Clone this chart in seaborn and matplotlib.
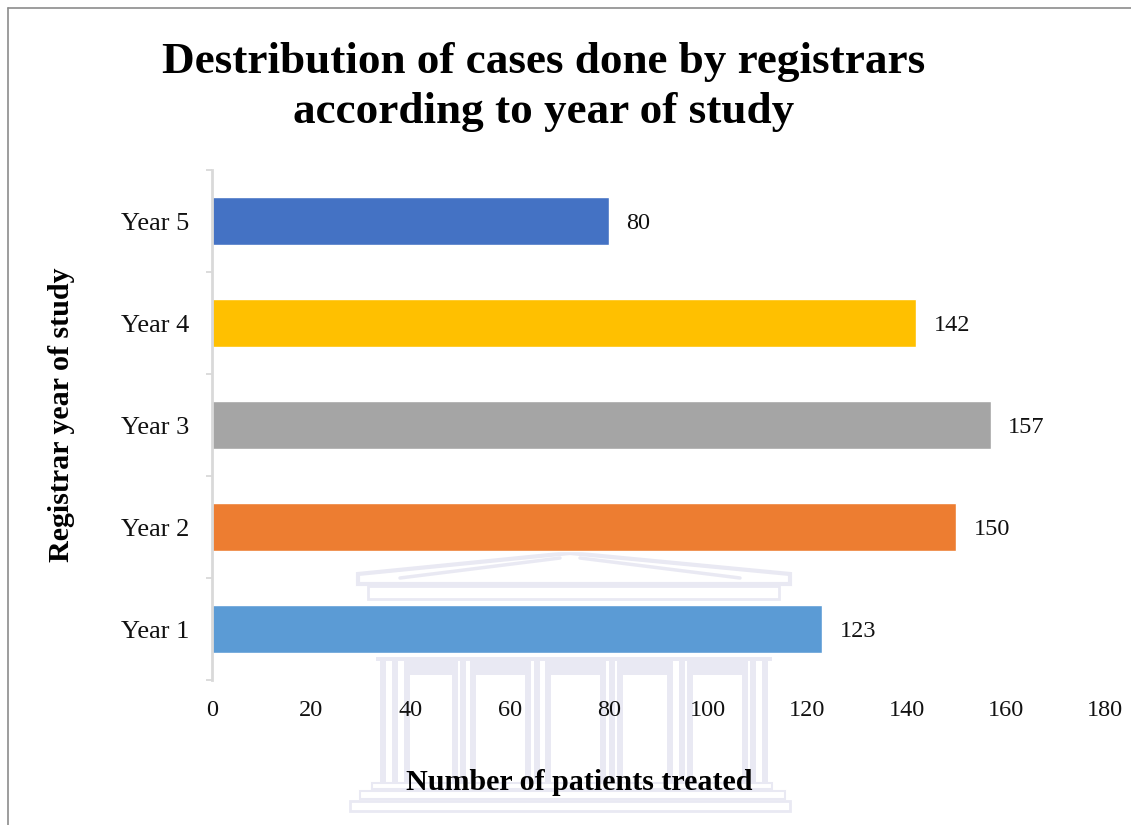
import matplotlib
matplotlib.use('Agg')
import matplotlib.pyplot as plt
from matplotlib.lines import Line2D
from matplotlib.patches import Rectangle, Polygon
import seaborn as sns
import pandas as pd

years = ['Year 5', 'Year 4', 'Year 3', 'Year 2', 'Year 1']
patients = [80, 142, 157, 150, 123]
colors = ['#4472C4', '#FFC000', '#A5A5A5', '#ED7D31', '#5B9BD5']
xticks = [0, 20, 40, 60, 80, 100, 120, 140, 160, 180]

W, H = 1131, 825

sns.set_theme(style='white')
plt.rcParams['font.family'] = ['Liberation Serif', 'DejaVu Serif']

fig = plt.figure(figsize=(W / 100, H / 100), dpi=100, facecolor='white')

# faded building watermark behind the chart, in pixel coords
bg = fig.add_axes([0, 0, 1, 1], zorder=0)
bg.set_xlim(0, W)
bg.set_ylim(H, 0)
bg.axis('off')
wm = '#E9E9F3'
bg.add_patch(Polygon([[358, 574], [570, 553], [790, 574], [790, 584], [358, 584]], closed=True,
                     fill=False, ec=wm, lw=3))
bg.add_patch(Rectangle((368, 586), 411, 13, fill=False, ec=wm, lw=2))
bg.add_line(Line2D([400, 560], [578, 558], color=wm, lw=2.5))
bg.add_line(Line2D([580, 740], [558, 578], color=wm, lw=2.5))
for cx in [383, 395, 407, 455, 463, 473, 528, 537, 548, 603, 612, 620, 670, 682, 690, 745, 753, 765]:
    bg.add_patch(Rectangle((cx - 3, 660), 6, 124, color=wm, lw=0))
bg.add_patch(Rectangle((376, 657), 396, 4, color=wm, lw=0))
for x0, x1 in [(407, 455), (473, 528), (548, 603), (620, 670), (690, 745)]:
    bg.add_patch(Rectangle((x0, 660), x1 - x0, 15, color=wm, lw=0))
bg.add_patch(Rectangle((372, 783), 400, 6, fill=False, ec=wm, lw=1.5))
bg.add_patch(Rectangle((360, 791), 425, 8, fill=False, ec=wm, lw=1.5))
bg.add_patch(Rectangle((350, 801), 440, 10, fill=False, ec=wm, lw=2))

# thin frame, only top and left edges show
bg.add_line(Line2D([8, W], [8, 8], color='#8C8C8C', lw=1.2))
bg.add_line(Line2D([8, 8], [8, H], color='#8C8C8C', lw=1.2))

ax = fig.add_axes([212 / W, 1 - 680 / H, (1105 - 212) / W, (680 - 170) / H], zorder=1)
ax.patch.set_alpha(0)

df = pd.DataFrame({'year': years, 'patients': patients})
sns.barplot(data=df, x='patients', y='year', hue='year', palette=colors, order=years,
            hue_order=years, width=0.47, dodge=False, legend=False, saturation=1, ax=ax)

for c in ax.containers:
    for t in ax.bar_label(c, padding=12.4, fontsize=17.5, color='#111111'):
        t.set_verticalalignment('center_baseline')

ax.set_xlim(0, 180)
ax.set_ylim(4.5, -0.5)
ax.set_xticks(xticks)
ax.set_yticks(range(len(years)))
ax.set_yticklabels(years)
ax.set_yticks([i - 0.5 for i in range(len(years) + 1)], minor=True)
ax.tick_params(axis='x', length=0, labelsize=17.5, pad=14.5, colors='#111111')
ax.tick_params(axis='y', which='major', length=0, labelsize=19, pad=16.5, colors='#111111')
ax.tick_params(axis='y', which='minor', left=True, length=4.5, width=1.3, color='#D9D9D9')

sns.despine(ax=ax, top=True, right=True, bottom=True)
ax.spines['left'].set_color('#D9D9D9')
ax.spines['left'].set_linewidth(2)

ax.set_xlabel('')
ax.set_ylabel('')
fig.text(579 / W, 1 - 782 / H, 'Number of patients treated', ha='center', va='center',
         fontsize=21.6, fontweight='bold', color='black')
fig.text(62 / W, 1 - 415 / H, 'Registrar year of study', ha='center', va='center', rotation=90,
         fontsize=21.6, fontweight='bold', color='black')
fig.text(544 / W, 1 - 87 / H, 'Destribution of cases done by registrars\naccording to year of study',
         ha='center', va='center', fontsize=32.5, fontweight='bold', color='black',
         linespacing=1.31)

fig.savefig('out.png', dpi=100)
